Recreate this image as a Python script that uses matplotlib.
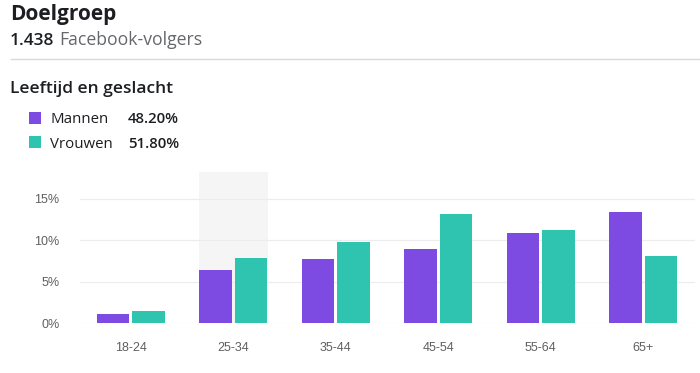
import matplotlib
matplotlib.use("Agg")
import matplotlib.pyplot as plt
import numpy as np
from matplotlib.patches import Rectangle
from matplotlib.lines import Line2D

categories = ["18-24", "25-34", "35-44", "45-54", "55-64", "65+"]
mannen = [1.1, 6.4, 7.7, 8.9, 10.9, 13.4]
vrouwen = [1.45, 7.8, 9.8, 13.2, 11.2, 8.05]
yticks = [0, 5, 10, 15]
ytick_labels = ["0%", "5%", "10%", "15%"]
title = "Doelgroep"
followers = "1.438"
followers_label = "Facebook-volgers"
subtitle = "Leeftijd en geslacht"
legend_names = ["Mannen", "Vrouwen"]
legend_pcts = ["48.20%", "51.80%"]
highlight_index = 1

PURPLE = "#7d4be2"
TEAL = "#2ec4b0"
W, H = 700, 373

fig = plt.figure(figsize=(7, 3.73), dpi=100)
fig.patch.set_facecolor("white")

def fx(x):
    return x / W

def fy(y):
    return 1 - y / H

ui = ["Open Sans", "DejaVu Sans"]
arial = ["Liberation Sans", "DejaVu Sans"]

# header
fig.text(fx(10), fy(20), title, fontsize=15, fontweight="bold", family=ui,
         color="#1c1e21", va="baseline", ha="left")
fig.text(fx(10), fy(45), followers, fontsize=12.5, fontweight="semibold",
         family=ui, color="#1c1e21", va="baseline", ha="left")
fig.text(fx(59), fy(45), followers_label, fontsize=12.7, family=ui,
         color="#65676b", va="baseline", ha="left")
fig.add_artist(Line2D([fx(11), fx(700)], [fy(58.5), fy(58.5)],
                      color="#d9d9d9", lw=1.0))
fig.text(fx(10), fy(93), subtitle, fontsize=12.5, fontweight="semibold",
         family=ui, color="#1c1e21", va="baseline", ha="left")

# legend
for i, (name, pct, col) in enumerate(zip(legend_names, legend_pcts, [PURPLE, TEAL])):
    ytop = 111.5 + i * 25
    fig.add_artist(Rectangle((fx(28.5), fy(ytop + 12)), 12.5 / W, 12 / H,
                             facecolor=col, edgecolor="none",
                             transform=fig.transFigure))
    base = 123.3 + i * 25
    fig.text(fx(50), fy(base), name, fontsize=10.8, family=ui,
             color="#1c1e21", va="baseline", ha="left")
    fig.text(fx(179), fy(base), pct, fontsize=10.8, fontweight="semibold",
             family=ui, color="#1c1e21", va="baseline", ha="right")

# chart
ax = fig.add_axes([fx(79.5), fy(323), (694.5 - 79.5) / W, (323 - 172) / H])
x = np.arange(len(categories))
bw = 0.317
off = 0.171
ymax = 18.26
ax.set_xlim(-0.5, len(categories) - 0.5)
ax.set_ylim(0, ymax)

ax.bar(highlight_index, ymax, width=0.67, color="#f5f5f5", zorder=0)
for yv in yticks:
    ax.axhline(yv, color="#ececec", lw=0.8, zorder=1)
ax.bar(x - off, mannen, width=bw, color=PURPLE, zorder=3)
ax.bar(x + off, vrouwen, width=bw, color=TEAL, zorder=3)

for s in ax.spines.values():
    s.set_visible(False)
ax.set_yticks(yticks)
ax.set_yticklabels(ytick_labels, family=arial, fontsize=9, color="#5f5f5f")
ax.set_xticks(x)
ax.set_xticklabels(categories, family=arial, fontsize=9, color="#5f5f5f")
ax.tick_params(axis="y", length=0, pad=14.5)
ax.tick_params(axis="x", length=0, pad=14)
ax.patch.set_alpha(0)

fig.savefig("out.png", dpi=100, facecolor="white")
